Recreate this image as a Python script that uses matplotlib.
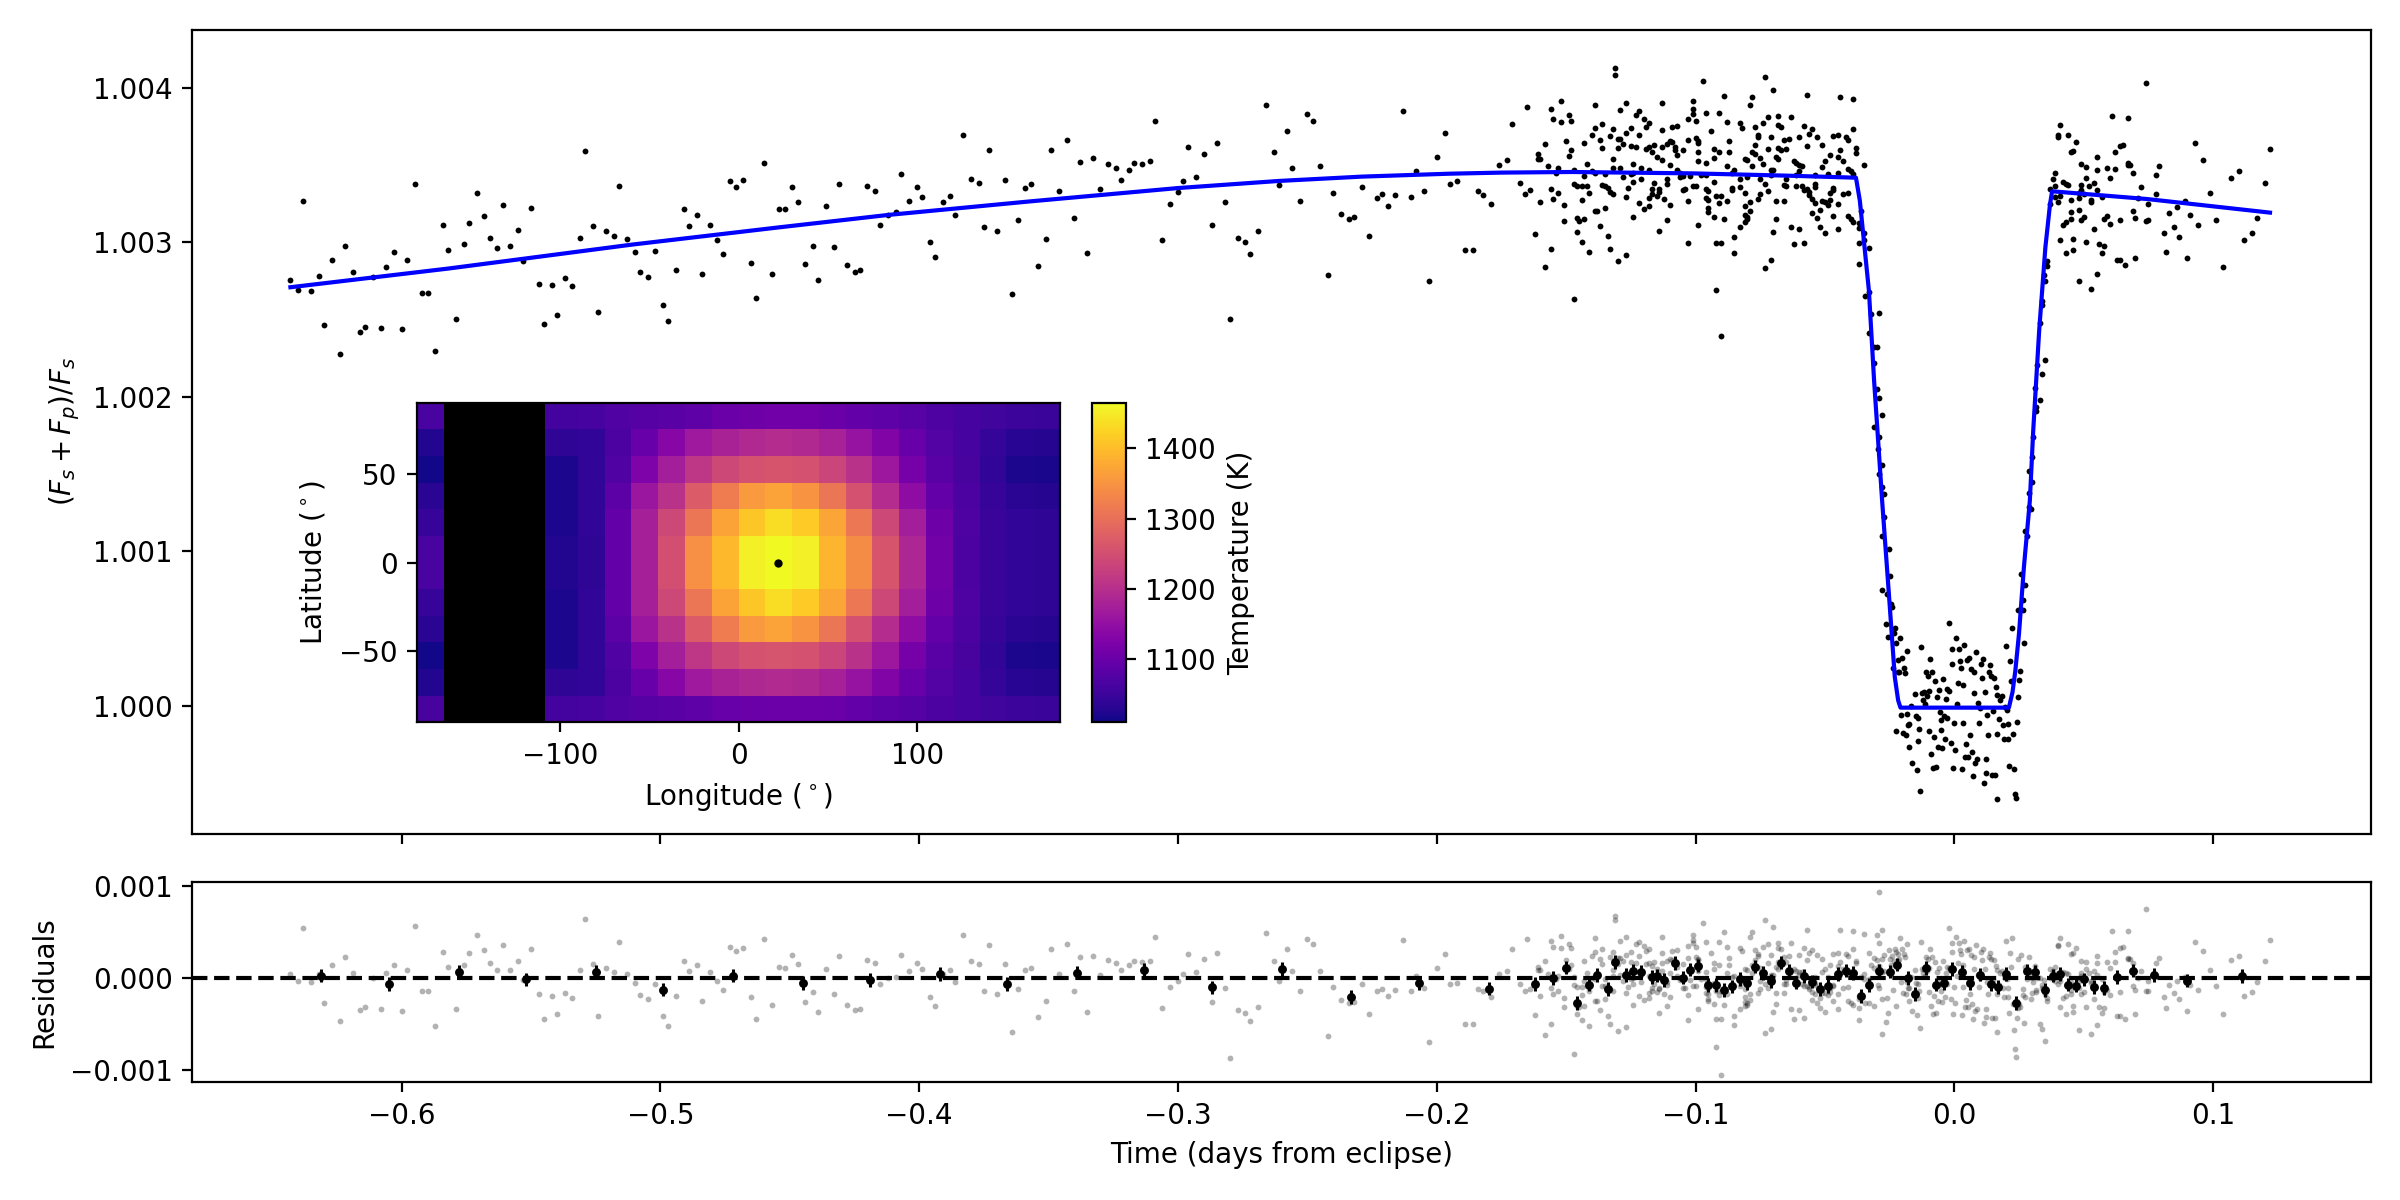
import matplotlib
matplotlib.use('Agg')
import matplotlib.pyplot as plt
import numpy as np

nan = np.nan

# light curve, (time in 0.001 days from eclipse, flux above the star in ppm)
out_of_eclipse_early = [
    (-643, 2757), (-640, 2690), (-638, 3268), (-635, 2686), (-632, 2783), (-630, 2466), (-627, 2887), (-624, 2279),
    (-622, 2977), (-619, 2809), (-616, 2421), (-614, 2453), (-611, 2777), (-608, 2447), (-606, 2841), (-603, 2938),
    (-600, 2440), (-598, 2887), (-595, 3378), (-592, 2673), (-590, 2673), (-587, 2298), (-584, 3113), (-582, 2951),
    (-579, 2505), (-576, 2990), (-574, 3126), (-571, 3320), (-568, 3171), (-566, 3029), (-563, 2964), (-561, 3242),
    (-558, 2977), (-555, 3081), (-553, 2880), (-550, 3223), (-547, 2731), (-545, 2473), (-542, 2725), (-540, 2531),
    (-537, 2770), (-534, 2718), (-531, 3029), (-529, 3592), (-526, 3107), (-524, 2550), (-521, 3074), (-518, 3042),
    (-516, 3365), (-513, 3022), (-510, 2938), (-508, 2809), (-505, 2777), (-502, 2945), (-499, 2596), (-497, 2492),
    (-494, 2822), (-491, 3217), (-489, 3107), (-486, 3178), (-484, 2796), (-481, 3113), (-478, 3016), (-476, 2925),
    (-473, 3398), (-471, 3359), (-468, 3404), (-465, 2867), (-463, 2641), (-460, 3514), (-457, 2796), (-454, 3217),
    (-452, 3217), (-449, 3359), (-447, 3262), (-444, 2861), (-441, 2977), (-439, 2757), (-436, 3236), (-433, 2971),
    (-431, 3378), (-428, 2854), (-425, 2809), (-423, 2822), (-420, 3365), (-417, 3333), (-415, 3113), (-412, 3178),
    (-409, 3197), (-407, 3443), (-404, 3268), (-401, 3359), (-399, 3294), (-396, 3003), (-394, 2906), (-391, 3262),
    (-388, 3301), (-386, 3178), (-383, 3695), (-380, 3411), (-377, 3385), (-375, 3100), (-373, 3598), (-370, 3074),
    (-367, 3404), (-364, 2667), (-362, 3145), (-359, 3352), (-357, 3378), (-354, 2848), (-351, 3022), (-349, 3598),
    (-346, 3333), (-343, 3663), (-340, 3158), (-338, 3521), (-335, 2932), (-333, 3546), (-330, 3346), (-327, 3508),
    (-324, 3482), (-322, 3404), (-319, 3469), (-317, 3514), (-314, 3508), (-311, 3527), (-309, 3786), (-306, 3016),
    (-303, 3249), (-300, 3327), (-298, 3398), (-296, 3618), (-293, 3424), (-290, 3572), (-287, 3113), (-285, 3643),
    (-282, 3262), (-280, 2505), (-277, 3029), (-274, 3003), (-272, 2925), (-269, 3074), (-266, 3889), (-263, 3585),
    (-261, 3372), (-258, 3721), (-256, 3482), (-253, 3268), (-250, 3831), (-248, 3786), (-245, 3495), (-242, 2790),
    (-240, 3320), (-237, 3184), (-234, 3152), (-232, 3165), (-229, 3359), (-226, 3042), (-223, 3288), (-221, 3314),
    (-219, 3236), (-216, 3307), (-213, 3850), (-210, 3294), (-208, 3462), (-205, 3333), (-203, 2751), (-200, 3553),
    (-197, 3708), (-195, 3378), (-192, 3398), (-189, 2951), (-186, 2951), (-184, 3333), (-182, 3307), (-179, 3249),
    (-176, 3501),
]
out_of_eclipse_dense = [
    (-131, 4129), (-131, 4083), (-97, 4044), (-73, 4070), (-70, 3986), (-89, 3947), (-78, 3941), (-79, 3889),
    (-57, 3954), (-44, 3941), (-39, 3928), (-152, 3915), (-139, 3889), (-165, 3876), (-127, 3902), (-113, 3902),
    (-101, 3915), (-156, 3863), (-129, 3857), (-101, 3863), (-96, 3837), (-91, 3837), (-122, 3850), (-149, 3825),
    (-123, 3825), (-101, 3831), (-155, 3799), (-152, 3779), (-148, 3786), (-171, 3766), (-120, 3799), (-103, 3799),
    (-100, 3786), (-88, 3779), (-72, 3812), (-68, 3818), (-63, 3812), (-118, 3773), (-83, 3773), (-74, 3773),
    (-136, 3766), (-77, 3747), (-82, 3740), (-58, 3753), (-68, 3760), (-67, 3747), (-139, 3740), (-132, 3734),
    (-125, 3740), (-119, 3747), (-109, 3747), (-107, 3753), (-113, 3727), (-94, 3721), (-55, 3734), (-39, 3734),
    (-127, 3708), (-140, 3695), (-137, 3663), (-133, 3689), (-129, 3669), (-122, 3695), (-128, 3637), (-130, 3669),
    (-150, 3656), (-143, 3643), (-158, 3637), (-56, 3702), (-53, 3682), (-47, 3689), (-45, 3695), (-42, 3680),
    (-41, 3663), (-76, 3695), (-76, 3680), (-71, 3682), (-66, 3663), (-64, 3669), (-60, 3682), (-110, 3656),
    (-109, 3650), (-103, 3663), (-100, 3676), (-99, 3656), (-99, 3643), (-87, 3656), (-136, 3611), (-130, 3611),
    (-125, 3624), (-123, 3618), (-119, 3605), (-118, 3618), (-116, 3630), (-113, 3618), (-111, 3637), (-108, 3618),
    (-108, 3598), (-105, 3598), (-93, 3605), (-91, 3585), (-87, 3585), (-77, 3630), (-72, 3605), (-68, 3611),
    (-67, 3598), (-65, 3605), (-57, 3624), (-51, 3630), (-44, 3598), (-38, 3611), (-38, 3579), (-148, 3598),
    (-161, 3572), (-149, 3559), (-117, 3585), (-107, 3566), (-99, 3585), (-78, 3585), (-77, 3572), (-48, 3566),
    (-45, 3553), (-132, 3540), (-115, 3553), (-113, 3533), (-161, 3540), (-160, 3540), (-173, 3533), (-99, 3527),
    (-96, 3514), (-93, 3546), (-81, 3540), (-80, 3533), (-75, 3546), (-69, 3551), (-68, 3538), (-50, 3527),
    (-43, 3527), (-62, 3527), (-61, 3514), (-60, 3501), (-59, 3497), (-157, 3495), (-153, 3482), (-142, 3508),
    (-124, 3508), (-110, 3501), (-74, 3508), (-78, 3495), (-88, 3495), (-85, 3469), (-71, 3469), (-70, 3469),
    (-51, 3488), (-35, 3501), (-41, 3475), (-60, 3464), (-154, 3449), (-147, 3469), (-140, 3462), (-139, 3449),
    (-135, 3443), (-132, 3482), (-129, 3482), (-128, 3424), (-125, 3443), (-124, 3449), (-121, 3482), (-118, 3469),
    (-107, 3469), (-106, 3449), (-105, 3430), (-102, 3430), (-98, 3436), (-96, 3436), (-86, 3449), (-83, 3413),
    (-80, 3424), (-75, 3411), (-71, 3436), (-65, 3411), (-61, 3436), (-54, 3436), (-49, 3443), (-45, 3449),
    (-40, 3464), (-39, 3443), (-143, 3430), (-121, 3411), (-111, 3411), (-106, 3424), (-168, 3385), (-147, 3378),
    (-146, 3365), (-144, 3365), (-142, 3365), (-136, 3372), (-135, 3365), (-124, 3391), (-116, 3385), (-111, 3378),
    (-101, 3365), (-100, 3365), (-93, 3391), (-86, 3352), (-83, 3359), (-73, 3378), (-66, 3372), (-65, 3365),
    (-61, 3365), (-59, 3365), (-54, 3378), (-54, 3357), (-57, 3346), (-47, 3339), (-47, 3352), (-156, 3346),
    (-164, 3339), (-134, 3352), (-126, 3352), (-117, 3346), (-114, 3346), (-105, 3339), (-104, 3346), (-96, 3346),
    (-95, 3333), (-86, 3339), (-72, 3333), (-58, 3339), (-56, 3327), (-48, 3320), (-43, 3314), (-41, 3320),
    (-166, 3314), (-153, 3320), (-141, 3320), (-133, 3327), (-132, 3314), (-117, 3314), (-115, 3301), (-114, 3327),
    (-92, 3301), (-90, 3301), (-81, 3320), (-75, 3314), (-127, 3294), (-118, 3288), (-112, 3281), (-96, 3288),
    (-95, 3275), (-56, 3307), (-55, 3281), (-155, 3281), (-144, 3275), (-160, 3262), (-103, 3268), (-91, 3255),
    (-88, 3268), (-79, 3262), (-76, 3281), (-69, 3268), (-66, 3268), (-54, 3255), (-51, 3268), (-50, 3262),
    (-48, 3275), (-151, 3242), (-122, 3255), (-110, 3242), (-81, 3236), (-45, 3249), (-49, 3245), (-135, 3223),
    (-120, 3217), (-118, 3236), (-95, 3223), (-95, 3197), (-79, 3206), (-138, 3204), (-139, 3204), (-55, 3191),
    (-52, 3210), (-36, 3204), (-81, 3180), (-80, 3167), (-124, 3165), (-93, 3165), (-89, 3152), (-80, 3152),
    (-81, 3132), (-69, 3152), (-53, 3158), (-47, 3171), (-41, 3171), (-40, 3154), (-39, 3132), (-146, 3158),
    (-145, 3137), (-143, 3152), (-151, 3139), (-111, 3145), (-99, 3113), (-83, 3100), (-137, 3107), (-63, 3100),
    (-60, 3087), (-52, 3100), (-45, 3087), (-37, 3126), (-37, 3094), (-146, 3068), (-114, 3074), (-70, 3068),
    (-50, 3061), (-162, 3055), (-35, 3061), (-134, 3042), (-85, 3035), (-144, 3003), (-103, 2997), (-92, 2997),
    (-90, 2997), (-62, 2990), (-58, 2997), (-37, 2997), (-35, 3016), (-33, 2964), (-156, 2958), (-133, 2958),
    (-141, 2938), (-85, 2932), (-127, 2919), (-130, 2880), (-71, 2887), (-73, 2835), (-158, 2841), (-37, 2861),
    (-92, 2693), (-147, 2634), (-90, 2395),
]
ingress = [
    (-34.4, 2654), (-33, 2680), (-32, 2537), (-29, 2544), (-33, 2414), (-31, 2322), (-30, 2324), (-31, 2220),
    (-30, 2052), (-29, 1994), (-28, 1884), (-31, 1807), (-29, 1740), (-29.5, 1660), (-28, 1560), (-29, 1500),
    (-28, 1420), (-27, 1370), (-27.1, 1224), (-27.9, 1101), (-25.2, 1017), (-24.9, 843), (-28.0, 752), (-26.2, 726),
    (-24.4, 662), (-23.9, 642), (-26.5, 532), (-23.0, 506), (-23.4, 474), (-25.7, 448),
]
in_eclipse = [
    (-21.1, 442), (-22.5, 409), (-18.4, 358), (-13.0, 384), (-20.3, 312), (-21.7, 299), (-9.5, 306), (-23.8, 248),
    (-19.5, 248), (-21.7, 222), (-21.3, 222), (-19.2, 215), (-11.0, 222), (-8.7, 222), (-10.3, 196), (-7.6, 164),
    (-4.5, 177), (-15.3, 80), (-12.6, 86), (-11.8, 92), (-9.9, 99), (-10.6, 67), (-6.0, 105), (-6.8, 60),
    (-12.2, 41), (-3.3, 47), (-11.4, 10), (-16.7, 2), (-2.7, 112), (-1.9, 99), (1.3, 151), (3.3, 138),
    (-2.1, 539), (0.6, 442), (-1.0, 371), (1.7, 371), (3.7, 396), (8.3, 351), (11.0, 306), (13.7, 267),
    (10.2, 274), (2.1, 293), (-1.0, 274), (2.5, 248), (4.8, 299), (5.6, 312), (6.4, 241), (7.5, 222),
    (13.3, 222), (14.1, 196), (15.3, 183), (10.6, 183), (16.0, 125), (7.5, 86), (11.8, 92), (16.5, 73),
    (18.4, 62), (17.6, 41), (9.1, 21), (1.0, 15), (9.9, -11), (19.9, 390), (22.2, 506), (21.5, 293),
    (21.8, 164), (19.6, -5), (20.3, -24), (14.9, -33), (12.6, -56), (17.2, -82), (-20.7, -56), (-18.4, -50),
    (-14.9, -63), (-14.1, -76), (-5.6, -37), (-4.1, -63), (-2.9, -76), (-5.2, -89), (-0.2, -108), (3.3, -108),
    (9.5, -108), (18.7, -121), (20.7, -114), (24.2, -102), (-17.6, -114), (-18.0, -121), (-22.6, -160), (-19.8, -173),
    (-18.8, -186), (-13.7, -147), (-9.9, -160), (-5.2, -153), (-7.9, -199), (-14.1, -225), (-3.7, -212), (-1.4, -237),
    (6.0, -186), (12.9, -186), (16.4, -179), (22.6, -179), (19.1, -212), (20.7, -212), (-17.6, -263), (-6.4, -263),
    (-4.8, -270), (0.2, -283), (4.4, -244), (6.8, -296), (-9.1, -309), (4.0, -328), (5.2, -328), (8.7, -341),
    (7.9, -367), (12.2, -341), (-16.4, -367), (-14.5, -412), (-8.3, -399), (-7.2, -393), (-0.6, -399), (2.9, -406),
    (21.1, -386), (23.0, -406), (7.1, -451), (12.2, -431), (14.5, -444), (15.6, -444), (11.4, -496), (-13.4, -548),
    (16.4, -600), (23.4, -567), (23.8, -593),
]
egress = [
    (28.7, 1289), (29.7, 1276), (27.5, 1134), (28.0, 1101), (25.6, 856), (27.4, 785), (26.5, 688), (24.7, 623),
    (26.5, 623), (26.9, 409), (25.3, 228), (24.9, 170), (24.5, 60), (30.5, 1740), (30, 1610), (29, 1520),
    (30, 1450), (29, 1380), (36, 2882), (36, 2848), (34.5, 2790), (35, 2751), (34, 2621), (34, 2596),
    (33, 2479), (35, 2240), (32, 2208), (34, 2149), (31, 2059), (33, 1981), (31.5, 1938), (31.5, 1910),
]
post_eclipse = [
    (74, 4032), (61, 3818), (67, 3805), (41, 3760), (40, 3693), (40, 3680), (44, 3695), (47, 3650),
    (64, 3624), (65, 3630), (93, 3643), (46, 3592), (45, 3585), (62, 3585), (122, 3605), (55, 3553),
    (96, 3533), (49, 3508), (51, 3488), (55, 3469), (59, 3482), (62, 3475), (67, 3514), (67, 3501),
    (68, 3503), (79, 3495), (110, 3462), (69, 3449), (39, 3449), (78, 3436), (51, 3417), (60, 3417),
    (107, 3417), (38, 3411), (42, 3391), (44, 3372), (43, 3378), (49, 3372), (52, 3365), (54, 3385),
    (39, 3365), (55, 3339), (49, 3339), (37, 3344), (72, 3359), (120, 3385), (48, 3320), (50, 3314),
    (99, 3320), (41, 3301), (39, 3294), (78, 3314), (57, 3294), (71, 3288), (45, 3275), (48, 3288),
    (53, 3262), (53, 3275), (75, 3249), (89, 3268), (40, 3262), (37, 3249), (86, 3229), (69, 3204),
    (45, 3197), (48, 3210), (83, 3191), (50, 3165), (59, 3171), (91, 3178), (117, 3158), (45, 3152),
    (49, 3145), (58, 3152), (64, 3145), (70, 3158), (74, 3139), (75, 3145), (101, 3145), (60, 3120),
    (43, 3132), (42, 3113), (94, 3113), (85, 3100), (54, 3087), (81, 3061), (115, 3061), (87, 3035),
    (112, 3016), (41, 3016), (46, 3022), (51, 3003), (56, 2990), (58, 2977), (46, 2951), (43, 2932),
    (57, 2932), (82, 2938), (90, 2900), (70, 2900), (63, 2887), (64, 2887), (66, 2854), (104, 2841),
    (55, 2796), (48, 2751), (53, 2699),
]

# fitted eclipse model
model_curve = [
    (-643, 2710), (-582, 2831), (-511, 2986), (-454, 3098), (-412, 3178), (-357, 3266), (-300, 3352), (-261, 3398),
    (-229, 3426), (-195, 3445), (-175, 3452), (-148, 3456), (-101, 3447), (-64, 3432), (-38, 3419), (-36.5, 3270),
    (-33, 2688), (-31, 2106), (-29.7, 1783), (-27.9, 1330), (-25.1, 683), (-23, 187), (-21.7, 36), (-20.8, -11),
    (21.1, -11), (22.5, 90), (23.6, 230), (25, 468), (26.9, 899), (29.2, 1330), (30.5, 1783), (32.8, 2430),
    (35.2, 2969), (37, 3249), (37.8, 3331), (74.5, 3281), (122, 3193),
]

# binned residuals, (time in 0.001 days, residual in ppm)
binned_residuals = [
    (-631, 29), (-605, -62), (-578, 72), (-552, -14), (-525, 69), (-499, -123), (-472, 29), (-445, -51),
    (-419, -18), (-392, 47), (-366, -65), (-339, 62), (-313, 94), (-287, -100), (-260, 100), (-233, -200),
    (-207, -51), (-180, -112), (-162, -65), (-155, 4), (-150, 116), (-146, -271), (-141, -69), (-138, 36),
    (-134, -119), (-131, 174), (-127, 33), (-124, 83), (-121, 65), (-117, 14), (-115, 29), (-112, -18),
    (-108, 167), (-105, 7), (-102, 94), (-99, 138), (-95, -76), (-92, -76), (-89, -127), (-86, -90),
    (-83, -7), (-80, -54), (-77, 127), (-74, 54), (-71, -29), (-67, 170), (-64, 83), (-61, -47),
    (-58, 22), (-55, -36), (-52, -116), (-49, -87), (-45, 47), (-42, 83), (-39, 54), (-36, -195),
    (-33, -76), (-29, 83), (-25, 72), (-22, 148), (-18, 4), (-15, -174), (-11, 112), (-7, -69),
    (-4, -51), (-1, 98), (3, 72), (6, -51), (10, 40), (14, -62), (17, -98), (20, 47),
    (24, -268), (28, 76), (31, 65), (35, -127), (38, 29), (41, 47), (44, -69), (47, -80),
    (50, -14), (54, -98), (58, -105), (63, 14), (69, 83), (77, 33), (90, -25), (111, 25),
]
binned_error_ppm = 75

# temperature map, black where the map has no constraint
lon_edges = [-180, -165, -108.5, -90, -75, -60, -45, -30, -15, 0, 15, 30, 45, 60, 75, 90, 105, 120, 135, 150, 165, 180]
lat_edges = [-90, -75, -60, -45, -30, -15, 15, 30, 45, 60, 75, 90]
temperature = [
    [1062, nan, 1058, 1060, 1072, 1078, 1082, 1088, 1098, 1102, 1104, 1104, 1100, 1093, 1086, 1078, 1068, 1060, 1055, 1050, 1048],
    [1025, nan, 1035, 1040, 1068, 1098, 1135, 1165, 1180, 1188, 1192, 1188, 1176, 1155, 1128, 1098, 1075, 1060, 1042, 1030, 1028],
    [1015, nan, 1022, 1040, 1072, 1125, 1172, 1212, 1240, 1255, 1258, 1255, 1235, 1205, 1162, 1115, 1082, 1062, 1040, 1022, 1018],
    [1032, nan, 1020, 1040, 1085, 1160, 1205, 1270, 1318, 1358, 1368, 1350, 1310, 1255, 1195, 1145, 1092, 1068, 1045, 1032, 1028],
    [1045, nan, 1022, 1040, 1092, 1175, 1240, 1310, 1370, 1410, 1435, 1415, 1372, 1312, 1240, 1172, 1105, 1070, 1048, 1040, 1036],
    [1065, nan, 1025, 1038, 1095, 1175, 1250, 1345, 1395, 1455, 1465, 1455, 1390, 1340, 1260, 1185, 1110, 1068, 1048, 1040, 1036],
    [1045, nan, 1022, 1040, 1092, 1175, 1240, 1310, 1370, 1410, 1435, 1415, 1372, 1312, 1240, 1172, 1105, 1070, 1048, 1040, 1036],
    [1032, nan, 1020, 1040, 1085, 1160, 1205, 1270, 1318, 1358, 1368, 1350, 1310, 1255, 1195, 1145, 1092, 1068, 1045, 1032, 1028],
    [1015, nan, 1022, 1040, 1072, 1125, 1172, 1212, 1240, 1255, 1260, 1255, 1235, 1205, 1162, 1115, 1082, 1062, 1040, 1022, 1018],
    [1025, nan, 1035, 1040, 1068, 1098, 1135, 1165, 1180, 1190, 1195, 1190, 1178, 1155, 1128, 1098, 1075, 1060, 1042, 1030, 1028],
    [1065, nan, 1058, 1060, 1072, 1078, 1082, 1088, 1100, 1105, 1108, 1108, 1102, 1095, 1088, 1080, 1070, 1060, 1055, 1050, 1048],
]
hotspot_lon, hotspot_lat = 22, 0

# units
points = np.array(out_of_eclipse_early + out_of_eclipse_dense + ingress + in_eclipse + egress + post_eclipse)
time = points[:, 0] / 1000
flux = 1 + points[:, 1] * 1e-6
model = np.array(model_curve)
model_time = model[:, 0] / 1000
model_flux = 1 + model[:, 1] * 1e-6
residuals = flux - np.interp(time, model_time, model_flux)
binned = np.array(binned_residuals)

fig = plt.figure(figsize=(12, 6))
ax = fig.add_axes([125.5 / 1568, 239 / 784, 1423.5 / 1568, 525.5 / 784])
ax_res = fig.add_axes([125.5 / 1568, 77 / 784, 1423.5 / 1568, 131 / 784], sharex=ax)

# top panel
ax.plot(time, flux, 'o', color='k', ms=2.1, mew=0, zorder=2)
ax.plot(model_time, model_flux, color='b', lw=1.5, zorder=3)
ax.set_ylabel(r'$(F_s + F_p)/F_s$')
ax.set_ylim(0.99917, 1.004376)
ax.set_yticks([1.000, 1.001, 1.002, 1.003, 1.004])
ax.set_yticklabels(['1.000', '1.001', '1.002', '1.003', '1.004'])
ax.tick_params(labelbottom=False)

# residual panel
ax_res.plot(time, residuals, 'o', color='k', alpha=0.3, ms=2.1, mew=0, zorder=1)
ax_res.axhline(0, color='k', ls='--', lw=1.5, zorder=2)
ax_res.errorbar(binned[:, 0] / 1000, binned[:, 1] * 1e-6, yerr=binned_error_ppm * 1e-6, fmt='o', color='k', ms=3.2, mew=0, elinewidth=1.1, zorder=3)
ax_res.set_xlim(-0.681, 0.161)
ax_res.set_ylim(-0.00113, 0.00105)
ax_res.set_yticks([-0.001, 0, 0.001])
ax_res.set_xticks([-0.6, -0.5, -0.4, -0.3, -0.2, -0.1, 0.0, 0.1])
ax_res.set_xlabel('Time (days from eclipse)')
ax_res.set_ylabel('Residuals')

# temperature map inset
ax_map = fig.add_axes([272.5 / 1568, 312 / 784, 420 / 1568, 209 / 784])
ax_map.set_facecolor('k')
mesh = ax_map.pcolormesh(lon_edges, lat_edges, np.ma.masked_invalid(temperature), cmap='plasma', vmin=1010, vmax=1465, shading='flat')
ax_map.plot(hotspot_lon, hotspot_lat, 'o', color='k', ms=3, mew=0)
ax_map.set_xlim(-180, 180)
ax_map.set_ylim(-90, 90)
ax_map.set_xticks([-100, 0, 100])
ax_map.set_yticks([-50, 0, 50])
ax_map.set_xlabel(r'Longitude ($^\circ$)')
ax_map.set_ylabel(r'Latitude ($^\circ$)')

cax = fig.add_axes([713.5 / 1568, 312 / 784, 22 / 1568, 209 / 784])
cbar = fig.colorbar(mesh, cax=cax)
cbar.set_ticks([1100, 1200, 1300, 1400])
cbar.set_label('Temperature (K)')

fig.savefig('out.png', dpi=200)
